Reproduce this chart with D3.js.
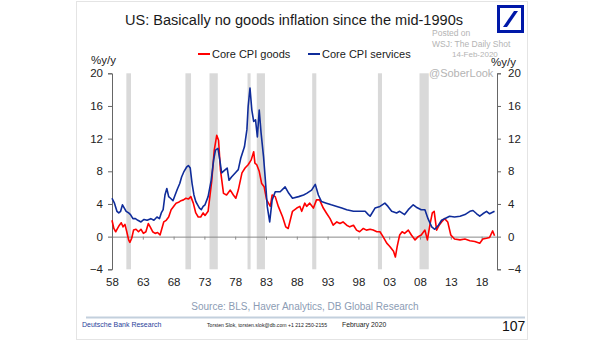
<!DOCTYPE html>
<html>
<head>
<meta charset="utf-8">
<script src="https://cdn.jsdelivr.net/npm/d3@7"></script>
<style>
  body { margin: 0; background: #fff; }
  svg { display: block; font-family: "Liberation Sans", Arial, sans-serif; }
</style>
</head>
<body>
<svg id="chart" width="605" height="341"></svg>
<script>
// core CPI services, % y/y
const servT = [1958.0,1958.4,1958.8,1959.1,1959.4,1959.7,1960.0,1960.3,1960.7,1961.0,1961.4,1961.8,1962.2,1962.7,1963.2,1963.7,1964.3,1964.8,1965.3,1965.7,
  1966.0,1966.3,1966.6,1966.9,1967.2,1967.5,1967.9,1968.2,1968.6,1969.0,1969.3,1969.7,1970.1,1970.4,1970.7,1971.0,1971.3,1971.6,1971.9,1972.2,
  1972.5,1972.8,1973.1,1973.6,1974.1,1974.5,1974.8,1975.2,1975.5,1975.8,1976.4,1976.7,1977.0,1977.4,1978.0,1978.5,1978.9,1979.5,1979.9,1980.1,
  1980.4,1980.7,1981.0,1981.3,1981.6,1981.9,1982.2,1982.6,1982.9,1983.2,1983.6,1984.0,1984.5,1985.3,1986.1,1986.7,1987.3,1988.3,1989.1,1989.6,
  1990.4,1991.0,1991.5,1992.0,1992.8,1993.6,1994.5,1995.3,1996.1,1997.2,1998.2,1999.1,1999.6,1999.9,2000.7,2001.5,2002.3,2002.8,2003.4,2004.2,
  2004.7,2005.5,2006.1,2006.9,2007.4,2008.2,2008.8,2009.3,2009.9,2010.4,2011.0,2011.5,2012.0,2012.8,2013.6,2014.5,2015.3,2016.1,2016.6,2017.2,
  2017.7,2018.2,2018.8,2019.3,2020.1]
const servV = [4.7,4.1,3.1,2.9,3.1,3.9,3.5,3.1,2.9,2.7,2.2,2.2,2.0,1.8,2.1,2.0,2.2,2.0,2.4,2.2,
  2.9,3.3,5.1,5.9,4.9,4.7,4.4,5.0,5.8,6.5,7.3,8.0,8.5,8.7,8.4,6.5,5.1,4.3,3.9,3.5,
  3.3,3.7,3.9,4.9,6.9,9.4,10.6,10.8,9.4,7.8,8.2,8.4,6.9,7.3,7.8,8.2,9.6,11.0,13.1,15.9,
  18.2,15.5,14.1,14.3,12.2,15.5,12.7,9.8,6.9,3.7,1.8,4.5,5.5,5.5,6.1,5.3,4.7,4.9,5.1,5.3,
  5.7,6.4,5.1,4.3,4.1,3.9,3.7,3.5,3.3,3.1,3.1,3.1,2.7,2.5,3.5,3.7,4.1,3.7,3.1,2.9,
  3.1,2.7,3.3,3.9,3.6,3.3,3.3,2.2,1.2,0.9,1.4,2.0,2.2,2.5,2.4,2.5,2.7,3.1,3.2,2.8,
  2.5,2.8,3.1,2.8,3.1]

// core CPI goods, % y/y
const goodsT = [1958.0,1958.3,1958.6,1958.9,1959.2,1959.5,1959.8,1960.1,1960.4,1960.7,1960.9,1961.2,1961.5,1961.9,1962.3,1962.7,1963.1,1963.5,1963.9,1964.2,
  1964.6,1965.0,1965.4,1965.8,1966.1,1966.4,1966.8,1967.2,1967.6,1968.0,1968.4,1968.8,1969.2,1969.6,1970.0,1970.4,1970.8,1971.2,1971.6,1972.0,
  1972.4,1972.8,1973.1,1973.6,1974.2,1974.6,1975.0,1975.3,1975.6,1976.1,1976.6,1977.2,1977.7,1978.1,1978.5,1979.1,1979.6,1980.1,1980.6,1981.0,
  1981.2,1981.5,1981.9,1982.3,1982.7,1983.1,1983.7,1984.0,1984.5,1985.0,1985.7,1986.2,1986.6,1987.3,1988.0,1988.5,1988.8,1989.3,1989.6,1990.1,
  1990.7,1991.2,1991.7,1992.3,1992.8,1993.4,1993.9,1994.5,1995.0,1995.5,1996.1,1996.6,1997.2,1997.7,1998.2,1998.8,1999.3,1999.9,2000.4,2001.0,
  2001.5,2002.0,2002.6,2003.1,2003.7,2004.0,2004.3,2004.7,2005.1,2005.5,2006.1,2006.6,2007.2,2007.7,2008.2,2008.8,2009.2,2009.6,2010.0,2010.3,
  2010.7,2011.1,2011.5,2012.0,2012.5,2013.0,2013.6,2014.5,2015.3,2016.1,2016.9,2017.7,2018.2,2018.8,2019.3,2019.8,2020.1]
const goodsV = [2.0,1.0,0.6,1.0,1.4,1.7,1.2,1.5,0.6,-0.4,-0.7,-0.2,0.8,0.9,0.6,0.9,0.4,0.6,1.6,1.2,
  0.6,0.4,0.5,0.2,1.0,1.8,2.0,2.4,3.3,3.7,4.1,4.2,4.4,4.5,4.7,4.6,4.9,4.1,2.9,2.4,
  2.4,2.9,2.6,3.1,6.9,10.6,12.4,11.8,8.2,5.3,5.1,5.7,5.1,4.7,5.7,7.8,8.4,8.8,9.4,10.4,
  9.0,8.8,8.0,6.5,6.1,4.5,3.7,5.1,4.9,3.7,2.4,1.2,1.0,3.1,3.5,3.7,3.1,4.1,3.7,4.1,
  3.5,4.5,4.5,3.5,2.9,2.2,1.4,1.8,1.6,1.8,1.4,1.2,1.4,0.8,0.6,1.0,0.8,0.9,0.8,0.6,
  0.6,0.0,-0.8,-1.2,-1.8,-2.5,-1.2,0.2,0.6,0.4,0.8,0.2,-0.4,0.0,0.2,0.8,-0.4,1.4,2.9,3.1,
  0.8,1.4,1.8,2.2,1.8,0.2,-0.3,-0.4,-0.3,-0.5,-0.6,-0.8,-0.3,-0.2,-0.1,0.7,0.1]

// NBER recessions [start, end]
const recessions = [[1960.33,1961.08],[1969.92,1970.83],[1973.83,1975.17],[1980.0,1980.5],
  [1981.5,1982.83],[1990.5,1991.17],[2001.17,2001.83],[2007.92,2009.42]]

const yTicks = [-4,0,4,8,12,16,20]
const xTicks = [1958,1963,1968,1973,1978,1983,1988,1993,1998,2003,2008,2013,2018]

const svg = d3.select('#chart')

// slide frame
svg.append('rect').attr('x', 76.5).attr('y', 1.5).attr('width', 451).attr('height', 338)
  .attr('fill', 'none').attr('stroke', '#e4e4e4')

let x = d3.scaleLinear().domain([1958, 2020.5]).range([112, 497])
let y = d3.scaleLinear().domain([-4, 20]).range([269.3, 73.3])

svg.append('g').selectAll('rect')
  .data(recessions)
  .enter().append('rect')
  .attr('x', d => x(d[0]))
  .attr('width', d => x(d[1]) - x(d[0]))
  .attr('y', y(20))
  .attr('height', y(-4) - y(20))
  .attr('fill', '#d9d9d9')

// zero line with small ticks
const zeroAxis = svg.append('g')
  .attr('transform', `translate(0,${y(0)})`)
  .call(d3.axisBottom(x).tickValues(xTicks).tickFormat('').tickSize(3).tickSizeOuter(0))
zeroAxis.selectAll('path,line').attr('stroke', '#8a8a8a')

// year labels
const xLab = svg.append('g')
  .attr('transform', `translate(0,${y(-4)})`)
  .call(d3.axisBottom(x).tickValues(xTicks).tickFormat(d => String(d).slice(2)).tickSize(0).tickPadding(9))
xLab.select('.domain').remove()
xLab.selectAll('text').attr('font-size', 11.5).attr('fill', '#222').attr('font-family', 'Liberation Sans, Arial')

const leftAxis = svg.append('g')
  .attr('transform', 'translate(112,0)')
  .call(d3.axisLeft(y).tickValues(yTicks).tickSize(4).tickPadding(5))
const rightAxis = svg.append('g')
  .attr('transform', 'translate(497,0)')
  .call(d3.axisRight(y).tickValues(yTicks).tickSize(4).tickPadding(7))
;[leftAxis, rightAxis].forEach(a => {
  a.selectAll('path,line').attr('stroke', '#666')
  a.selectAll('text').attr('font-size', 11.5).attr('fill', '#222').attr('font-family', 'Liberation Sans, Arial')
})

const line = d3.line().x(d => x(d[0])).y(d => y(d[1]))

svg.append('path')
  .datum(goodsT.map((t, i) => [t, goodsV[i]]))
  .attr('d', line).attr('fill', 'none')
  .attr('stroke', '#ff0000').attr('stroke-width', 1.6).attr('stroke-linejoin', 'round')

svg.append('path')
  .datum(servT.map((t, i) => [t, servV[i]]))
  .attr('d', line).attr('fill', 'none')
  .attr('stroke', '#0f2c9a').attr('stroke-width', 1.6).attr('stroke-linejoin', 'round')

// title
svg.append('text').attr('x', 125).attr('y', 25)
  .attr('font-size', 15.5).attr('fill', '#1a1a1a')
  .attr('textLength', 338).attr('lengthAdjust', 'spacingAndGlyphs')
  .text('US: Basically no goods inflation since the mid-1990s')

// DB logo
svg.append('rect').attr('x', 498.5).attr('y', 6.5).attr('width', 24).attr('height', 25)
  .attr('fill', '#fff').attr('stroke', '#0018a8').attr('stroke-width', 3)
svg.append('path').attr('d', 'M514,11 L518,11 L507,27 L503,27 Z').attr('fill', '#0018a8')

// watermark
const wm = [['Posted on', 432, 36, 8.5], ['WSJ: The Daily Shot', 432, 47, 8.5], ['14-Feb-2020', 452, 57, 8], ['@SoberLook', 429, 77, 11]]
svg.append('g').selectAll('text')
  .data(wm)
  .enter().append('text')
  .attr('x', d => d[1]).attr('y', d => d[2])
  .attr('font-size', d => d[3]).attr('fill', '#b4b4b4')
  .text(d => d[0])

// axis unit labels
svg.append('text').attr('x', 91).attr('y', 64).attr('font-size', 11.5).attr('fill', '#222').text('%y/y')
svg.append('text').attr('x', 491).attr('y', 66).attr('font-size', 11.5).attr('fill', '#222').text('%y/y')

// legend
const legend = [['Core CPI goods', '#ff0000', 198], ['Core CPI services', '#0f2c9a', 308]]
legend.forEach(l => {
  svg.append('line').attr('x1', l[2]).attr('x2', l[2] + 12).attr('y1', 54).attr('y2', 54)
    .attr('stroke', l[1]).attr('stroke-width', 2)
  svg.append('text').attr('x', l[2] + 14).attr('y', 58).attr('font-size', 11).attr('fill', '#1a1a1a').text(l[0])
})

// footer
svg.append('text').attr('x', 305).attr('y', 310).attr('text-anchor', 'middle')
  .attr('font-size', 10).attr('fill', '#8c9cb4').text('Source: BLS, Haver Analytics, DB Global Research')
svg.append('line').attr('x1', 86).attr('x2', 525).attr('y1', 317.5).attr('y2', 317.5)
  .attr('stroke', '#c3d0dd').attr('stroke-width', 2)
svg.append('text').attr('x', 82).attr('y', 327).attr('font-size', 7).attr('fill', '#2a3f9a').text('Deutsche Bank Research')
svg.append('text').attr('x', 207).attr('y', 327).attr('font-size', 5.2).attr('fill', '#222')
  .attr('textLength', 120).attr('lengthAdjust', 'spacingAndGlyphs')
  .text('Torsten Slok, torsten.slok@db.com  +1 212 250-2155')
svg.append('text').attr('x', 342).attr('y', 327).attr('font-size', 6.8).attr('fill', '#222').text('February  2020')
svg.append('text').attr('x', 502).attr('y', 331).attr('font-size', 14).attr('fill', '#111').text('107')
</script>
</body>
</html>
